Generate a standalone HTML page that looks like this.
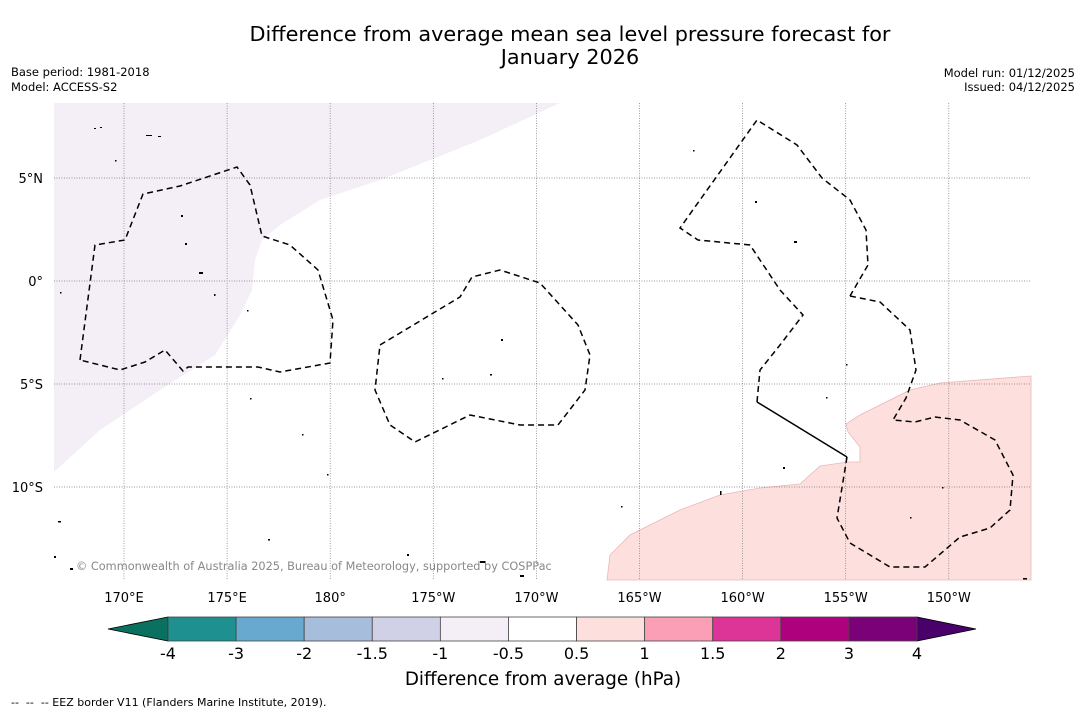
<!DOCTYPE html>
<html><head><meta charset="utf-8"><style>
body{margin:0;background:#fff;font-family:"Liberation Sans","DejaVu Sans",sans-serif}
svg{display:block}
</style></head><body>
<svg width="1085" height="713" viewBox="0 0 1085 713" font-family="DejaVu Sans, Liberation Sans, sans-serif">
<rect width="1085" height="713" fill="#fff"/>
<text x="570" y="41" text-anchor="middle" font-size="20.8">Difference from average mean sea level pressure forecast for</text>
<text x="570" y="64" text-anchor="middle" font-size="20.8">January 2026</text>
<text x="11" y="76" font-size="11.5">Base period: 1981-2018</text>
<text x="11" y="91" font-size="11.5">Model: ACCESS-S2</text>
<text x="1075" y="77" font-size="11.5" text-anchor="end">Model run: 01/12/2025</text>
<text x="1075" y="91" font-size="11.5" text-anchor="end">Issued: 04/12/2025</text>
<g id="map">
<polygon fill="#f4eef6" points="54,103 560,103 480,140 380,180 320,200 280,225 262,240 255,260 252,290 240,315 215,355 160,390 100,430 54,472"/>
<polygon fill="#fde0dd" stroke="#e8b8b8" stroke-width="0.8" points="607,580 610,555 630,535 680,510 720,495 760,488 800,484 820,466 848,462 860,462 860,447 848,432 846,424 860,415 910,390 940,383 1031,376 1031,580"/>
<g id="grid" stroke="#777" stroke-width="0.7" stroke-dasharray="1,1.5"></g>
<g fill="none" stroke="#000" stroke-width="1.5" stroke-dasharray="6,4">
<polyline points="80,360 95,245 125,240 143,194 180,186 237,167 250,185 262,236 290,245 318,270 333,320 330,363 280,372 258,367 188,367 183,371 165,350 145,362 120,370 80,360"/>
<polyline points="380,345 460,297 472,277 500,270 540,283 578,325 590,355 585,390 558,425 520,425 470,415 415,442 390,425 375,390 380,345"/>
<polyline points="757,402 760,370 780,345 803,315 780,290 750,245 698,240 680,228 757,120 797,145 822,178 850,200 866,230 868,265 850,296"/>
<polyline points="847,457 837,518 850,543 890,567 925,567 960,537 990,528 1010,510 1013,475 995,440 960,420 935,417 915,422 893,420 906,398 916,370 910,330 880,302 850,296"/>
</g>
<line x1="757" y1="402" x2="847" y2="457" stroke="#000" stroke-width="1.5"/>
<g fill="#000">
<rect x="94" y="128" width="2" height="1"/><rect x="100" y="127" width="2" height="1"/><rect x="146" y="135" width="6" height="1"/><rect x="158" y="136" width="3" height="1"/><rect x="115" y="160" width="1.5" height="1.5"/><rect x="181" y="215" width="2" height="2"/><rect x="185" y="243" width="2" height="2"/><rect x="199" y="272" width="4" height="2"/><rect x="214" y="294" width="1.5" height="2"/><rect x="60" y="292" width="1.5" height="1.5"/><rect x="247" y="310" width="1.5" height="1.5"/><rect x="501" y="339" width="2" height="2"/><rect x="490" y="374" width="2" height="1.5"/><rect x="442" y="378" width="1.5" height="1.5"/><rect x="693" y="150" width="1.5" height="1.5"/><rect x="755" y="201" width="2" height="2"/><rect x="794" y="241" width="3" height="2"/><rect x="783" y="467" width="2" height="2"/><rect x="720" y="491" width="1.5" height="4"/><rect x="58" y="521" width="3" height="1.5"/><rect x="268" y="539" width="2" height="1.5"/><rect x="520" y="575" width="4" height="2"/><rect x="480" y="561" width="6" height="2"/><rect x="54" y="556" width="2" height="2"/><rect x="70" y="568" width="3" height="2"/><rect x="407" y="554" width="2" height="2"/><rect x="1023" y="578" width="4" height="1.5"/><rect x="621" y="506" width="1.5" height="1.5"/><rect x="942" y="487" width="1.5" height="1.5"/><rect x="910" y="517" width="1.5" height="1.5"/><rect x="327" y="474" width="1.5" height="1.5"/><rect x="302" y="434" width="1.5" height="1.5"/><rect x="250" y="398" width="1.5" height="1.5"/><rect x="846" y="364" width="1.5" height="1.5"/><rect x="826" y="397" width="1.5" height="1.5"/></g>
<text x="76" y="570" font-size="11.3" fill="#888">© Commonwealth of Australia 2025, Bureau of Meteorology, supported by COSPPac</text>
</g>
<g id="axes" font-size="13"></g>
<g id="cbar"></g>
<text x="543" y="685" text-anchor="middle" font-size="18.3">Difference from average (hPa)</text>
<text x="11" y="706" font-size="11" xml:space="preserve" style="white-space:pre">--  --  -- EEZ border V11 (Flanders Marine Institute, 2019).</text>
</svg>
<script>
const lonTicks=[170,175,180,185,190,195,200,205,210];
const lonLabels=["170°E","175°E","180°","175°W","170°W","165°W","160°W","155°W","150°W"];
const latTicks=[5,0,-5,-10];
const latLabels=["5°N","0°","5°S","10°S"];
const levels=["-4","-3","-2","-1.5","-1","-0.5","0.5","1","1.5","2","3","4"];
const colors=["#1e9090","#67a9cf","#a6bddb","#d0d1e6","#f4eef6","#ffffff","#fde0dd","#fa9fb5","#dd3497","#ae017e","#7a0177"];
const ns="http://www.w3.org/2000/svg";
const X0=54,X1=1031,Y0=103,Y1=580;
const xs=lon=>124+(lon-170)*20.62;
const ys=lat=>281-lat*20.6;
function mk(tag,attrs,parent){const e=document.createElementNS(ns,tag);for(const k in attrs)e.setAttribute(k,attrs[k]);parent.appendChild(e);return e;}
const grid=document.getElementById('grid'),axes=document.getElementById('axes');
lonTicks.forEach((v,i)=>{const x=xs(v);
 const l=mk('line',{x1:x,x2:x,y1:Y0,y2:Y1},grid);
 
 
 const t=mk('text',{x:x,y:602,'text-anchor':'middle'},axes);t.textContent=lonLabels[i];
 
 });
latTicks.forEach((v,i)=>{const y=ys(v);
 const l=mk('line',{x1:X0,x2:X1,y1:y,y2:y},grid);
 
 
 const t=mk('text',{x:43,y:y+5,'text-anchor':'end'},axes);t.textContent=latLabels[i];
 
 });
const cb=document.getElementById('cbar');
const cx0=168,cx1=917,cy=617,ch=24,w=(cx1-cx0)/colors.length;
const lt=mk('polygon',{points:`${cx0},${cy} 108,${cy+ch/2} ${cx0},${cy+ch}`,fill:'#0a7060',stroke:'#000','stroke-width':0.8},cb);


const rt=mk('polygon',{points:`${cx1},${cy} 976,${cy+ch/2} ${cx1},${cy+ch}`,fill:'#49006a',stroke:'#000','stroke-width':0.8},cb);


colors.forEach((c,i)=>{const r=mk('rect',{x:cx0+i*w,y:cy,width:w,height:ch,fill:c,stroke:'#444','stroke-width':0.8},cb);
 
 });
levels.forEach((s,i)=>{const t=mk('text',{x:cx0+i*w,y:659,'text-anchor':'middle','font-size':16},cb);t.textContent=s;
 
 });
</script>
</body></html>
